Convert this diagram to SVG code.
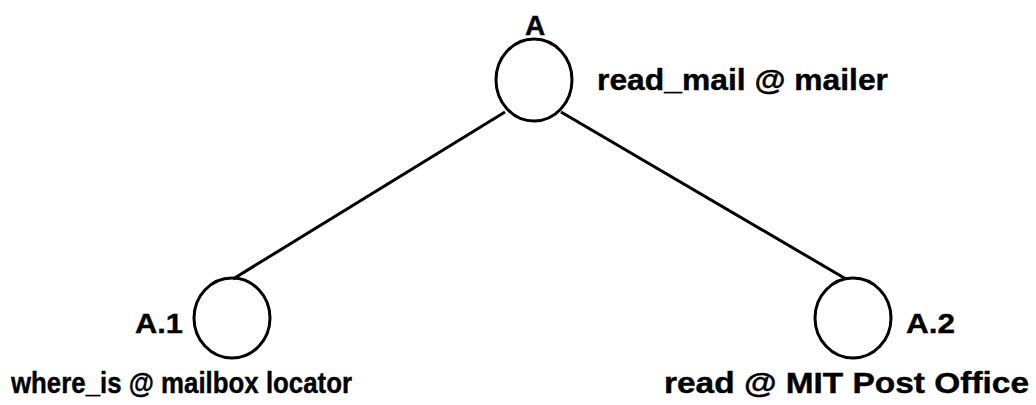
<svg xmlns="http://www.w3.org/2000/svg" width="1036" height="405" viewBox="0 0 1036 405">
<style>
.n{fill:none;stroke:#000;stroke-width:3}
.e{stroke:#000;stroke-width:3;fill:none}
text{font-family:"Liberation Sans",Arial,sans-serif;font-weight:bold;fill:#000;stroke:#000;stroke-width:0.4}
.t{font-size:29px}
.l{font-size:28px}
</style>
<rect width="1036" height="405" fill="#fff"/>
<g id="connectors">
<line class="e" x1="505" y1="112" x2="233" y2="279"/>
<line class="e" x1="561" y1="112" x2="846" y2="279"/>
</g>
<g id="nodeA">
<ellipse class="n" cx="534" cy="80" rx="38" ry="41"/>
<text class="l" x="535" y="35" text-anchor="middle">A</text>
<text class="t" x="597" y="90" textLength="291" lengthAdjust="spacingAndGlyphs">read_mail @ mailer</text>
</g>
<g id="nodeA1">
<ellipse class="n" cx="232" cy="318" rx="38" ry="40"/>
<text class="l" x="135" y="333" textLength="48" lengthAdjust="spacingAndGlyphs">A.1</text>
<text class="t" x="11" y="393" textLength="341" lengthAdjust="spacingAndGlyphs">where_is @ mailbox locator</text>
</g>
<g id="nodeA2">
<ellipse class="n" cx="853" cy="318" rx="38" ry="40"/>
<text class="l" x="906" y="333" textLength="49" lengthAdjust="spacingAndGlyphs">A.2</text>
<text class="t" x="664" y="393" textLength="365" lengthAdjust="spacingAndGlyphs">read @ MIT Post Office</text>
</g>
</svg>
